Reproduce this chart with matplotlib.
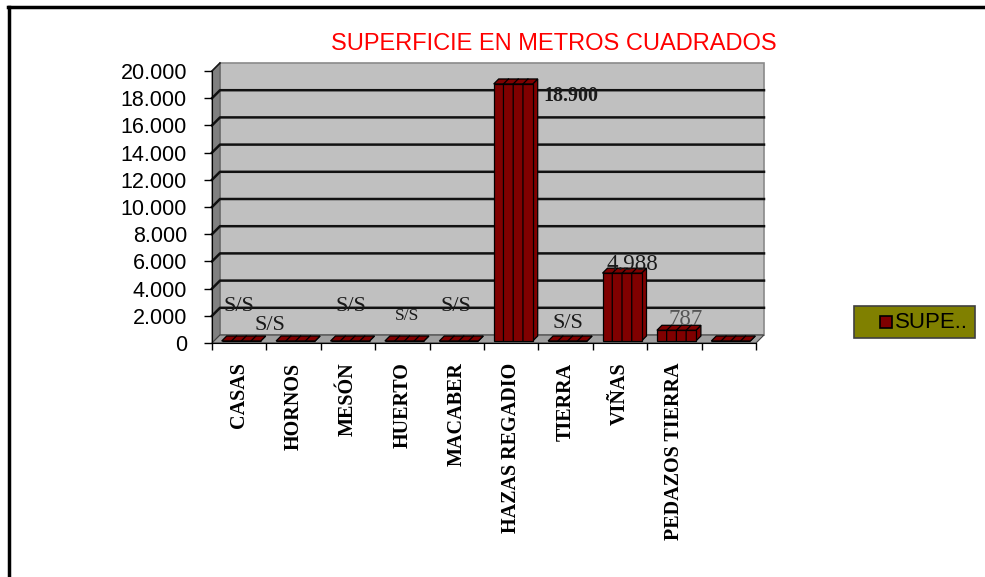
import matplotlib
matplotlib.use("Agg")
import matplotlib.pyplot as plt
from matplotlib.patches import Polygon, Rectangle
from matplotlib.lines import Line2D
from matplotlib.ticker import FuncFormatter

# superficie por tipo de finca (m2); 0 = sin superficie (S/S)
categories = ["CASAS", "HORNOS", "MESÓN", "HUERTO", "MACABER",
              "HAZAS REGADIO", "TIERRA", "VIÑAS", "PEDAZOS TIERRA", ""]
values = [0, 0, 0, 0, 0, 18900, 0, 4988, 787, 0]
value_labels = ["S/S", "S/S", "S/S", "S/S", "S/S", "18.900", "S/S", "4.988", "787", ""]
series_name = "SUPE.."
title = "SUPERFICIE EN METROS CUADRADOS"
y_ticks = list(range(0, 20001, 2000))

# where each value label sits (x in slot units, y in m2) and how it looks
label_pos = [(0.50, 2650), (1.07, 1250), (2.56, 2650), (3.58, 2000), (4.49, 2720),
             (6.10, 18160), (6.54, 1470), (7.72, 5750), (8.71, 1760), (0, 0)]
label_style = [dict(size=16), dict(size=16), dict(size=16), dict(size=12.5), dict(size=16),
               dict(size=14.5, weight="bold", ha="left"), dict(size=16),
               dict(size=16.5), dict(size=16.5, color="#555555"), dict(size=16)]

W, H = 985, 577
fig = plt.figure(figsize=(W / 100, H / 100), dpi=100)
fig.patch.set_facecolor("white")

# front plane of the 3d box: x 212..756 px, y 343..71 px
ax_l, ax_b, ax_w, ax_h = 212, 343, 544, 272
ax = fig.add_axes([ax_l / W, (H - ax_b) / H, ax_w / W, ax_h / H])
n = len(categories)
ax.set_xlim(0, n)
ax.set_ylim(0, 20000)
ax.patch.set_visible(False)

px_x = ax_w / n          # pixels per slot
px_y = ax_h / 20000.0    # pixels per m2
def off(dxp, dyp):
    return dxp / px_x, dyp / px_y

dx, dy = off(8, 8)

# walls and floor
ax.add_patch(Polygon([(dx, dy), (n + dx, dy), (n + dx, 20000 + dy), (dx, 20000 + dy)],
                     closed=True, facecolor="#c0c0c0", edgecolor="#8a8a8a", lw=1.2,
                     clip_on=False, zorder=0))
ax.add_patch(Polygon([(0, 0), (0, 20000), (dx, 20000 + dy), (dx, dy)],
                     closed=True, facecolor="#808080", edgecolor="#606060", lw=0.8,
                     clip_on=False, zorder=0.5))
ax.add_patch(Polygon([(0, 0), (n, 0), (n + dx, dy), (dx, dy)],
                     closed=True, facecolor="#a0a0a0", edgecolor="#404040", lw=0.8,
                     clip_on=False, zorder=0.5))
for v in y_ticks[1:-1]:
    ax.add_line(Line2D([0, dx, n + dx], [v, v + dy, v + dy], color="#111111", lw=1.8,
                       clip_on=False, zorder=0.8))
ax.add_line(Line2D([0, dx], [20000, 20000 + dy], color="#1a1a1a", lw=1.2,
                   clip_on=False, zorder=0.8))

# 3d bars with four vertical strips
bx, by = off(2, 2)
ddx, ddy = off(5, 5)
hw = 19.5 / px_x
for i, v in enumerate(values):
    c = i + 0.5
    x0, x1 = c - hw + bx, c + hw + bx
    y0, y1 = by, v + by
    kw = dict(closed=True, facecolor="#800000", edgecolor="black", lw=0.9,
              clip_on=False, zorder=2)
    ax.add_patch(Polygon([(x1, y0), (x1 + ddx, y0 + ddy), (x1 + ddx, y1 + ddy), (x1, y1)], **kw))
    ax.add_patch(Polygon([(x0, y1), (x1, y1), (x1 + ddx, y1 + ddy), (x0 + ddx, y1 + ddy)], **kw))
    ax.add_patch(Polygon([(x0, y0), (x1, y0), (x1, y1), (x0, y1)], **kw))
    for k in (1, 2, 3):
        xs = x0 + (x1 - x0) * k / 4
        ax.add_line(Line2D([xs, xs, xs + ddx], [y0, y1, y1 + ddy], color="black", lw=0.9,
                           clip_on=False, zorder=2.1))

# value labels
for txt, (lx, ly), st in zip(value_labels, label_pos, label_style):
    if not txt:
        continue
    st = dict(st)
    ax.text(lx, ly, txt, family="Liberation Serif", fontsize=st.pop("size"),
            ha=st.pop("ha", "center"), va="center", color=st.pop("color", "#1a1a1a"),
            zorder=3, **st)

# axes, ticks and category labels
for s in ("top", "right"):
    ax.spines[s].set_visible(False)
ax.spines["left"].set_color("black")
ax.spines["bottom"].set_color("black")
ax.spines["left"].set_zorder(1)
ax.set_yticks(y_ticks)
ax.yaxis.set_major_formatter(FuncFormatter(lambda v, p: f"{int(v):,}".replace(",", ".")))
ax.tick_params(axis="y", direction="out", length=6, width=1, pad=12, labelsize=15.5)
for t in ax.get_yticklabels():
    t.set_family("Liberation Sans")
ax.set_xticks(range(n + 1))
ax.set_xticklabels([])
ax.tick_params(axis="x", which="major", direction="out", length=5, width=1)
ax.set_xticks([i + 0.5 for i in range(n)], categories, minor=True)
ax.tick_params(axis="x", which="minor", length=0, pad=14)
for t in ax.get_xticklabels(minor=True):
    t.set_rotation(90)
    t.set_family("Liberation Serif")
    t.set_fontweight("bold")
    t.set_fontsize(14.5)

# title
fig.text(554 / W, (H - 44) / H, title, color="red", fontsize=17,
         family="Liberation Sans", ha="center", va="center")

# legend box
fig.add_artist(Rectangle((854 / W, (H - 338) / H), 121 / W, 32 / H,
                         transform=fig.transFigure, facecolor="#808000",
                         edgecolor="#404040", lw=1.2))
fig.add_artist(Rectangle((880 / W, (H - 328) / H), 12 / W, 12 / H,
                         transform=fig.transFigure, facecolor="#800000",
                         edgecolor="black", lw=1.2))
fig.text(895 / W, (H - 322) / H, series_name, fontsize=16, family="Liberation Sans",
         ha="left", va="center", color="black")

# outer frame (left and top edges)
fig.add_artist(Line2D([8.5 / W, 8.5 / W], [0, (H - 7) / H], transform=fig.transFigure,
                      color="black", lw=2.5))
fig.add_artist(Line2D([7.5 / W, 1], [(H - 7) / H, (H - 7) / H], transform=fig.transFigure,
                      color="black", lw=2.5))

fig.savefig("out.png", dpi=100)
